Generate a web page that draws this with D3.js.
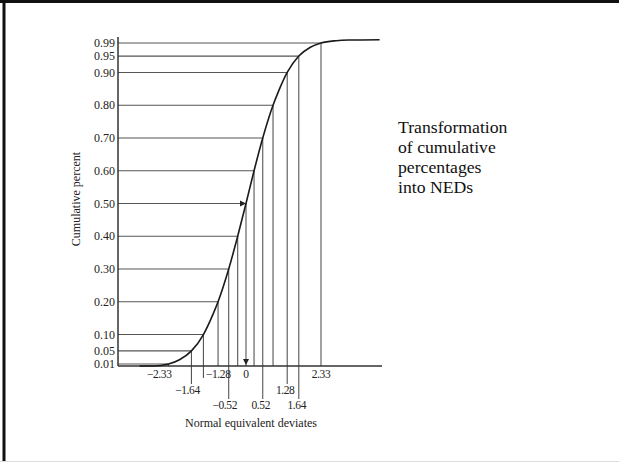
<!DOCTYPE html>
<html><head><meta charset="utf-8">
<script src="https://cdn.jsdelivr.net/npm/d3@7"></script>
<style>
html,body{margin:0;padding:0;background:#fff;}
svg{display:block;}
text{font-family:"Liberation Serif","Times New Roman",serif;fill:#222;}
</style></head>
<body>
<svg id="c" width="619" height="462"></svg>
<script>
// cumulative probabilities and their normal equivalent deviates
const probs = [0.01,0.05,0.10,0.20,0.30,0.40,0.50,0.60,0.70,0.80,0.90,0.95,0.99];
const neds  = [-2.33,-1.64,-1.28,-0.84,-0.52,-0.25,0,0.25,0.52,0.84,1.28,1.64,2.33];
const yTickLabels = ["0.01","0.05","0.10","0.20","0.30","0.40","0.50","0.60","0.70","0.80","0.90","0.95","0.99"];
// cumulative curve points (z, p)
const curveZ = [-3.2,-2.8,-2.33,-2.0,-1.64,-1.28,-1.0,-0.84,-0.52,-0.25,0,0.25,0.52,0.84,1.0,1.28,1.64,2.0,2.33,2.8,3.2,4.15];
const curveP = [0.0,0.003,0.01,0.023,0.05,0.10,0.16,0.20,0.30,0.40,0.50,0.60,0.70,0.80,0.84,0.90,0.95,0.977,0.99,0.997,0.999,1.0];
// x-axis labels: value, text, row
const xLabelVals = [-2.33,-1.64,-1.28,-0.52,0,0.52,1.28,1.64,2.33];
const xLabelText = ["\u22122.33","\u22121.64","\u22121.28","\u22120.52","0","0.52","1.28","1.64","2.33"];
const xLabelRow  = [1,2,1,3,1,3,2,3,1];
const yTitle = "Cumulative percent";
const xTitle = "Normal equivalent deviates";
const sideText = ["Transformation","of cumulative","percentages","into NEDs"];

const svg = d3.select("#c");
// frame
svg.append("rect").attr("x",0).attr("y",0).attr("width",619).attr("height",462).attr("fill","#fff");
svg.append("line").attr("x1",0).attr("x2",619).attr("y1",1.5).attr("y2",1.5).attr("stroke","#111").attr("stroke-width",3);
svg.append("line").attr("x1",4).attr("x2",4).attr("y1",0).attr("y2",462).attr("stroke","#111").attr("stroke-width",3);
svg.append("line").attr("x1",0).attr("x2",619).attr("y1",461.5).attr("y2",461.5).attr("stroke","#ddd").attr("stroke-width",1);

const x = d3.scaleLinear().domain([-2.33,0,2.33]).range([168.5,246,321]);
const y = d3.scaleLinear().domain([0,1]).range([367.3,39.7]);
const axisX0 = 118, axisY0 = 366;

const g = svg.append("g");
const gridColor = "#555";

// horizontal lines from axis to curve
g.selectAll("line.h").data(probs).join("line")
  .attr("x1",axisX0).attr("x2",(d,i)=>x(neds[i]))
  .attr("y1",d=>y(d)).attr("y2",d=>y(d))
  .attr("stroke",gridColor).attr("stroke-width",1.1);

// vertical lines from curve to axis (and below for labelled ones)
const extEnd = {1:378,2:384,3:399};
g.selectAll("line.v").data(neds).join("line")
  .attr("x1",d=>x(d)).attr("x2",d=>x(d))
  .attr("y1",(d,i)=>y(probs[i]))
  .attr("y2",d=>{
    const k = xLabelVals.indexOf(d);
    if (k<0) return axisY0;
    const r = xLabelRow[k];
    if (r===1) return d===-1.28 ? extEnd[1] : axisY0;
    return extEnd[r];
  })
  .attr("stroke",gridColor).attr("stroke-width",1.1);

// arrowheads at p=0.5 and z=0
const ax = x(0), ay = y(0.5);
g.append("path").attr("d",`M${ax-6},${ay-3}L${ax},${ay}L${ax-6},${ay+3}Z`).attr("fill","#222");
g.append("path").attr("d",`M${ax-3},${axisY0-7}L${ax},${axisY0-1}L${ax+3},${axisY0-7}Z`).attr("fill","#222");

// axes
g.append("line").attr("x1",axisX0).attr("x2",axisX0).attr("y1",37).attr("y2",axisY0)
  .attr("stroke","#333").attr("stroke-width",1.5);
g.append("line").attr("x1",axisX0).attr("x2",382).attr("y1",axisY0).attr("y2",axisY0)
  .attr("stroke","#333").attr("stroke-width",1.5);

// curve
const pts = curveZ.map((z,i)=>[z,curveP[i]]);
const xc = z => z < -2.33 ? x(-2.33) + (z+2.33)*33.3 : (z > 2.33 ? x(2.33) + (z-2.33)*32.2 : x(z));
g.append("path").datum(pts)
  .attr("d",d3.line().x(d=>xc(d[0])).y(d=>Math.min(y(d[1]),axisY0)).curve(d3.curveMonotoneX))
  .attr("fill","none").attr("stroke","#1a1a1a").attr("stroke-width",1.6);

// y tick labels
g.selectAll("text.yt").data(probs).join("text")
  .attr("x",115).attr("y",d=>y(d)).attr("dy","0.35em")
  .attr("text-anchor","end").attr("font-size",12).text((d,i)=>yTickLabels[i]);

// x tick labels
const rowBase = {1:378,2:394,3:409};
g.selectAll("text.xt").data(xLabelVals).join("text")
  .attr("x",(d,i)=>{
    if (d===-1.28) return x(d)+2.5;
    if (d===-2.33) return x(d)+3;
    return x(d) + (d<0 ? -4 : (xLabelRow[i]>1 ? -2 : 0));
  })
  .attr("y",(d,i)=>rowBase[xLabelRow[i]])
  .attr("text-anchor",d=> d===-1.28 ? "start" : (d===-2.33 ? "end" : "middle"))
  .attr("font-size",11.5).attr("letter-spacing",-0.4).text((d,i)=>xLabelText[i]);

// titles
svg.append("text").attr("transform","translate(80,199) rotate(-90)")
  .attr("text-anchor","middle").attr("font-size",12).text(yTitle);
svg.append("text").attr("x",251).attr("y",427).attr("text-anchor","middle")
  .attr("font-size",12).text(xTitle);

// side text
svg.append("g").selectAll("text").data(sideText).join("text")
  .attr("x",398).attr("y",(d,i)=>133+i*20).attr("font-size",17.7).style("fill","#111").text(d=>d);
</script>
</body></html>
